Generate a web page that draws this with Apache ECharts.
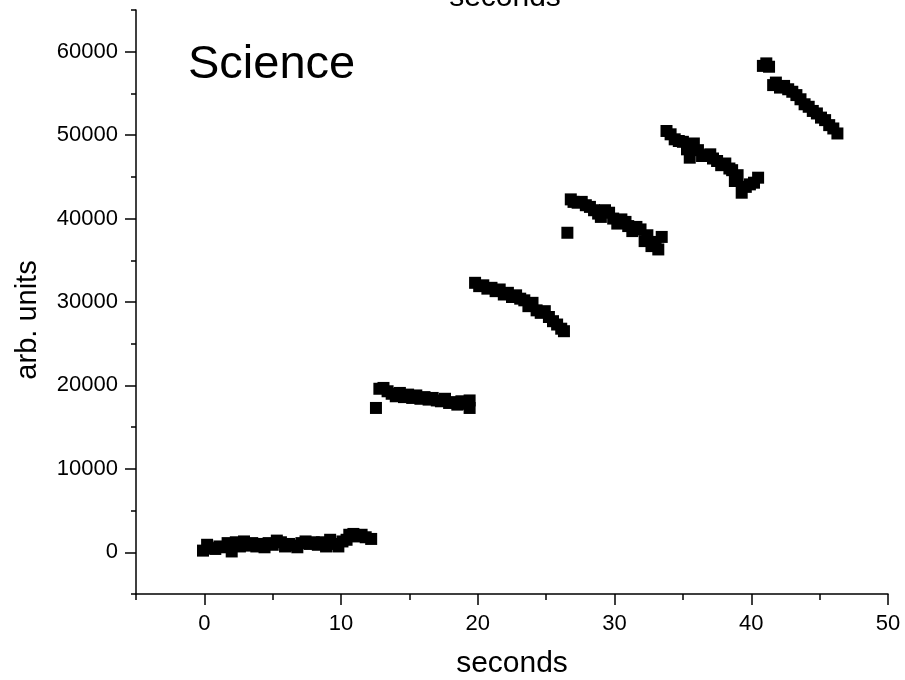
<!DOCTYPE html>
<html>
<head>
<meta charset="utf-8">
<script src="https://cdn.jsdelivr.net/npm/echarts@6/dist/echarts.min.js"></script>
<style>
html,body{margin:0;padding:0;background:#fff;}
#chart{width:905px;height:680px;}
</style>
</head>
<body>
<div id="chart"></div>
<script>
// Step 1 (0–12 s)
var step1Seconds = [-0.1,0.2,0.5,0.8,1.1,1.4,1.7,2.0,2.3,2.6,2.9,3.2,3.5,3.8,4.1,4.4,4.7,5.0,5.3,5.6,5.9,6.2,6.5,6.8,7.1,7.4,7.7,8.0,8.3,8.6,8.9,9.2,9.5,9.8,10.1,10.4,10.6,10.9,11.2,11.5,11.8,12.2];
var step1Values  = [200,900,500,400,700,600,1100,100,1200,700,1300,800,1100,700,1000,600,1100,900,1400,1200,700,1000,800,600,1100,1300,1000,1200,900,1200,700,1500,1000,700,1300,1500,2100,2200,1900,2100,1800,1600];
// Step 2
var step2Seconds = [12.55,12.8,13.1,13.4,13.7,14.0,14.3,14.6,14.9,15.2,15.5,15.8,16.1,16.4,16.7,17.0,17.3,17.6,17.9,18.2,18.5,18.8,19.1,19.4,19.4];
var step2Values  = [17300,19600,19700,19300,19000,18700,19100,18600,18900,18500,18800,18400,18600,18300,18500,18200,18100,18400,17900,18000,17700,18100,17800,17300,18200];
// Step 3
var step3Seconds = [19.8,20.1,20.4,20.7,21.0,21.3,21.6,21.9,22.2,22.5,22.8,23.1,23.4,23.7,24.0,24.3,24.6,24.9,25.2,25.5,25.8,26.1,26.3];
var step3Values  = [32300,31900,32000,31600,31700,31300,31500,30900,31100,30600,30800,30400,30200,29500,29900,29000,28700,28900,28200,27700,27300,26800,26500];
// Step 4
var step4Seconds = [26.55,26.8,27.0,27.3,27.6,27.9,28.2,28.5,28.8,29.0,29.3,29.6,29.9,30.2,30.5,30.8,31.0,31.3,31.6,31.9,32.2,32.4,32.7,33.0,33.2,33.45];
var step4Values  = [38300,42300,42000,41900,42000,41600,41400,41000,40600,40200,41000,40700,40000,39400,39900,39600,39100,38500,39000,38700,37300,38000,36700,37200,36300,37800];
// Step 5
var step5Seconds = [33.8,34.1,34.4,34.7,35.0,35.3,35.5,35.8,36.1,36.4,36.7,37.0,37.2,37.5,37.8,38.1,38.4,38.6,38.8,39.0,39.3,39.6,39.9,40.2,40.5];
var step5Values  = [50500,50100,49500,49300,49200,48300,47300,49000,48200,47500,47600,47700,47200,46900,46400,46600,46000,45800,44500,45200,43100,43800,44100,44300,44900];
// Step 6
var step6Seconds = [40.85,41.1,41.3,41.6,41.8,42.1,42.4,42.7,43.0,43.3,43.6,43.9,44.2,44.5,44.8,45.1,45.4,45.7,46.0,46.3];
var step6Values  = [58300,58600,58200,56000,56300,55700,55900,55500,55200,54800,54300,53700,53400,52900,52600,52100,51800,51200,50800,50200];

var xMajorTicks = [0,10,20,30,40,50];
var yMajorTicks = [0,10000,20000,30000,40000,50000,60000];

var allSeconds = [].concat(step1Seconds,step2Seconds,step3Seconds,step4Seconds,step5Seconds,step6Seconds);
var allValues  = [].concat(step1Values,step2Values,step3Values,step4Values,step5Values,step6Values);
var points = allSeconds.map(function(s,i){ return [s, allValues[i]]; });

var FONT = '"Liberation Sans", Arial, Helvetica, sans-serif';
var gridBox = {left:136, right:17, top:10, bottom:86, containLabel:false, outerBoundsMode:'none'};

var chart = echarts.init(document.getElementById('chart'), null, {renderer:'canvas'});
chart.setOption({
  backgroundColor:'#fff',
  animation:false,
  grid:[
    Object.assign({}, gridBox),
    Object.assign({}, gridBox)
  ],
  xAxis:[{
    type:'value', gridIndex:0, min:-5, max:50, position:'bottom',
    name:'seconds', nameLocation:'middle', nameGap:55,
    nameTextStyle:{fontFamily:FONT, fontSize:30, color:'#000'},
    axisLine:{show:true, onZero:false, lineStyle:{color:'#000', width:1.5}},
    axisTick:{show:true, length:11, lineStyle:{color:'#000', width:1.5}, customValues:xMajorTicks},
    axisLabel:{fontFamily:FONT, fontSize:22, color:'#000', margin:19, customValues:xMajorTicks},
    splitLine:{show:false}
  },{
    type:'value', gridIndex:1, min:-5, max:50, interval:5, position:'bottom',
    axisLine:{show:false, onZero:false},
    axisTick:{show:true, length:6, lineStyle:{color:'#000', width:1.5}},
    axisLabel:{show:false},
    splitLine:{show:false}
  }],
  yAxis:[{
    type:'value', gridIndex:0, min:-5000, max:65000, position:'left',
    axisLine:{show:true, onZero:false, lineStyle:{color:'#000', width:1.5}},
    axisTick:{show:true, length:11, lineStyle:{color:'#000', width:1.5}, customValues:yMajorTicks},
    axisLabel:{fontFamily:FONT, fontSize:22, color:'#000', margin:18, customValues:yMajorTicks,
      formatter:function(v){ return String(v); }},
    splitLine:{show:false}
  },{
    type:'value', gridIndex:1, min:-5000, max:65000, interval:5000, position:'left',
    axisLine:{show:false, onZero:false},
    axisTick:{show:true, length:5, lineStyle:{color:'#000', width:1.5}},
    axisLabel:{show:false},
    splitLine:{show:false}
  }],
  graphic:[
    {type:'text', x:188, y:65, style:{text:'Science', font:'47px ' + FONT, fill:'#000', textAlign:'left', textVerticalAlign:'middle'}},
    {type:'text', x:505, y:13, style:{text:'seconds', font:'30px ' + FONT, fill:'#000', textAlign:'center', textVerticalAlign:'bottom'}},
    {type:'text', x:28, y:320, rotation:Math.PI/2, style:{text:'arb. units', font:'29px ' + FONT, fill:'#000', textAlign:'center', textVerticalAlign:'middle'}}
  ],
  series:[{
    type:'scatter', xAxisIndex:0, yAxisIndex:0,
    symbol:'rect', symbolSize:12,
    itemStyle:{color:'#000', opacity:1},
    data:points
  }]
});
</script>
</body>
</html>
